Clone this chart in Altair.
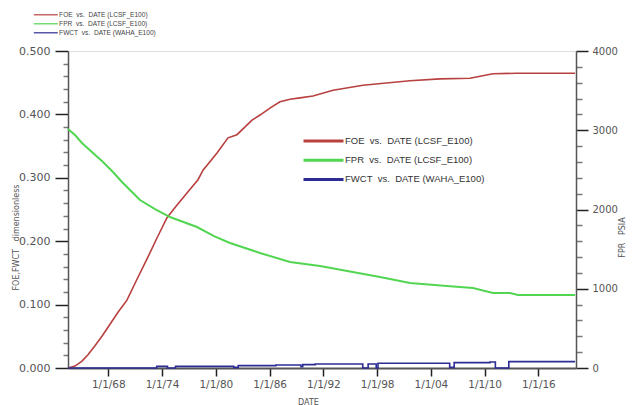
import altair as alt
import pandas as pd

FOE = "FOE\u00a0\u00a0vs.\u00a0\u00a0DATE (LCSF_E100)"
FPR = "FPR\u00a0\u00a0vs.\u00a0\u00a0DATE (LCSF_E100)"
FWCT = "FWCT\u00a0\u00a0vs.\u00a0\u00a0DATE (WAHA_E100)"
series_names = [FOE, FPR, FWCT]
# names as printed in the small key at the top left
key_names = ["FOE\u00a0 vs.\u00a0 DATE (LCSF_E100)",
             "FPR\u00a0 vs.\u00a0 DATE (LCSF_E100)",
             "FWCT\u00a0 vs.\u00a0 DATE (WAHA_E100)"]
series_colors = ["#b8403f", "#52d652", "#2c2c94"]

# FOE (dimensionless) vs decimal year
foe_year = [1963.5, 1964.28, 1965.06, 1965.73, 1966.51, 1967.29, 1968.19, 1969.08,
            1970.08, 1971.2, 1972.32, 1973.43, 1974.55, 1975.67, 1976.78, 1978.01,
            1978.57, 1980.13, 1981.36, 1982.36, 1984.04, 1984.93, 1986.04, 1987.16,
            1988.28, 1989.39, 1990.84, 1993.08, 1996.42, 2001.67, 2005.02, 2008.37,
            2010.93, 2013.61, 2020.1]
foe_val = [0.0, 0.003, 0.011, 0.021, 0.035, 0.05, 0.069, 0.088,
           0.107, 0.14, 0.172, 0.205, 0.237, 0.257, 0.276, 0.297,
           0.312, 0.339, 0.363, 0.368, 0.391, 0.399, 0.41, 0.42,
           0.424, 0.426, 0.429, 0.438, 0.446, 0.453, 0.456, 0.457,
           0.464, 0.465, 0.465]

# FPR (psia)
fpr_year = [1963.5, 1964.28, 1965.06, 1966.29, 1967.41, 1968.52, 1969.53, 1970.42,
            1971.54, 1973.21, 1974.88, 1977.9, 1979.8, 1981.58, 1984.93, 1988.28,
            1991.63, 1994.97, 1998.32, 2001.67, 2005.8, 2008.7, 2010.93, 2012.83,
            2013.72, 2020.1]
fpr_val = [3016, 2940, 2839, 2713, 2599, 2473, 2347, 2246,
           2120, 2006, 1905, 1779, 1663, 1577, 1451, 1337,
           1287, 1218, 1148, 1073, 1035, 1009, 946, 946,
           921, 921]

# FWCT (dimensionless), stepped
fwct_year = [1963.5, 1973.4, 1974.6, 1975.5, 1982.0, 1982.5, 1986.7, 1989.5,
             1989.7, 1991.1, 1996.4, 1997.0, 1997.9, 1998.1, 2006.1, 2006.6,
             2010.6, 2011.2, 2012.7, 2020.1]
fwct_val = [0.0, 0.0026, 0.0, 0.0026, 0.001, 0.0037, 0.0047, 0.002,
            0.0053, 0.0063, 0.0, 0.0063, 0.0, 0.0074, 0.001, 0.0084,
            0.0095, 0.0, 0.010, 0.010]

x_ticks = [1968, 1974, 1980, 1986, 1992, 1998, 2004, 2010, 2016]
left_ticks = [0.0, 0.02, 0.04, 0.06, 0.08, 0.1, 0.12, 0.14, 0.16, 0.18, 0.2, 0.22, 0.24,
              0.26, 0.28, 0.3, 0.32, 0.34, 0.36, 0.38, 0.4, 0.42, 0.44, 0.46, 0.48, 0.5]
right_ticks = [0, 200, 400, 600, 800, 1000, 1200, 1400, 1600, 1800, 2000, 2200, 2400,
               2600, 2800, 3000, 3200, 3400, 3600, 3800, 4000]

foe_df = pd.DataFrame({"year": foe_year, "value": foe_val, "series": FOE,
                       "key": key_names[0]})
fpr_df = pd.DataFrame({"year": fpr_year, "psia": fpr_val, "series": FPR})
fwct_df = pd.DataFrame({"year": fwct_year, "value": fwct_val, "series": FWCT})

FONT = "DejaVu Sans"
LFONT = "Liberation Sans"

x_enc = alt.X(
    "year:Q",
    scale=alt.Scale(domain=[1963.5, 2020.2], nice=False, zero=False),
    axis=alt.Axis(values=x_ticks, labelExpr="'1/1/' + slice(toString(datum.value), 2)",
                  title="DATE", titleX=240, titleY=30, grid=False,
                  tickSize=8, tickWidth=1.5, tickColor="#222",
                  domainColor="#555", domainWidth=2,
                  labelFont=FONT, labelFontSize=10.5, labelColor="#555", labelPadding=3,
                  titleFont=FONT, titleFontSize=8, titleFontWeight="normal", titleColor="#555"),
)

left_scale = alt.Scale(domain=[0, 0.5], nice=False, zero=False)
right_scale = alt.Scale(domain=[0, 4000], nice=False, zero=False)

left_major = "abs(datum.value * 10 - round(datum.value * 10)) < 0.001"
right_major = "datum.value % 1000 === 0"

color_enc = alt.Color(
    "series:N",
    scale=alt.Scale(domain=series_names, range=series_colors),
    legend=alt.Legend(orient="none", legendX=250, legendY=84.5, title=None, padding=0,
                      symbolType="M-5,0L5,0", symbolSize=64, symbolStrokeWidth=3,
                      labelFont=LFONT, labelFontSize=9.5, labelColor="#333",
                      labelOffset=16, rowPadding=6.2),
)

foe_line = alt.Chart(foe_df).mark_line(strokeWidth=1.6).encode(
    x=x_enc,
    y=alt.Y("value:Q", scale=left_scale,
            axis=alt.Axis(values=left_ticks, grid=False,
                          labelExpr=left_major + " ? format(datum.value, '.3f') : ''",
                          title="FOE,FWCT\u00a0\u00a0\u00a0dimensionless",
                          titleX=-52, titleY=186, titleAngle=270, titleBaseline="middle",
                          tickSize={"condition": {"test": left_major, "value": 13}, "value": 5},
                          tickColor={"condition": {"test": left_major, "value": "#222"},
                                     "value": "#777"},
                          tickWidth=1.5,
                          domainColor="#555", domainWidth=1.5,
                          labelFont=FONT, labelFontSize=11, labelColor="#555", labelPadding=5,
                          titleFont=FONT, titleFontSize=8, titleFontWeight="normal",
                          titleColor="#555")),
    color=color_enc,
)

fpr_line = alt.Chart(fpr_df).mark_line(strokeWidth=2).encode(
    x=x_enc,
    y=alt.Y("psia:Q", scale=right_scale,
            axis=alt.Axis(orient="right", values=right_ticks, grid=False,
                          labelExpr=right_major + " ? format(datum.value, 'd') : ''",
                          title="FPR\u00a0\u00a0\u00a0PSIA",
                          titleX=46, titleY=186, titleAngle=270, titleBaseline="middle",
                          tickSize={"condition": {"test": right_major, "value": 12}, "value": 6},
                          tickColor={"condition": {"test": right_major, "value": "#222"},
                                     "value": "#777"},
                          tickWidth=1.5,
                          domainColor="#555", domainWidth=1.5,
                          labelFont=FONT, labelFontSize=10, labelColor="#555", labelPadding=4,
                          titleFont=FONT, titleFontSize=8, titleFontWeight="normal",
                          titleColor="#555")),
    color=color_enc,
)

fwct_line = alt.Chart(fwct_df).mark_line(strokeWidth=1.6, interpolate="step-after").encode(
    x=x_enc,
    y=alt.Y("value:Q", scale=left_scale, axis=None),
    color=color_enc,
)

small_legend_layer = alt.Chart(foe_df).mark_line(opacity=0).encode(
    x=x_enc,
    y=alt.Y("value:Q", scale=left_scale, axis=None),
    stroke=alt.Stroke(
        "key:N",
        scale=alt.Scale(domain=key_names, range=series_colors),
        legend=alt.Legend(orient="none", legendX=-25.5, legendY=-39.5, title=None, padding=0,
                          symbolType="M-6,0L6,0", symbolSize=16, symbolStrokeWidth=1.2,
                          symbolOpacity=1,
                          labelFont=LFONT, labelFontSize=6.6, labelColor="#444",
                          labelOffset=10, rowPadding=2),
    ),
)

chart = alt.layer(
    foe_line, fpr_line, fwct_line, small_legend_layer
).resolve_scale(y="independent").properties(
    width=508, height=317,
    autosize=alt.AutoSizeParams(type="none"),
    padding={"left": 68, "top": 51, "right": 59, "bottom": 37},
).configure_view(stroke=None).configure(background="white")

chart.save("out.html", embed_options={"renderer": "svg", "actions": False})
